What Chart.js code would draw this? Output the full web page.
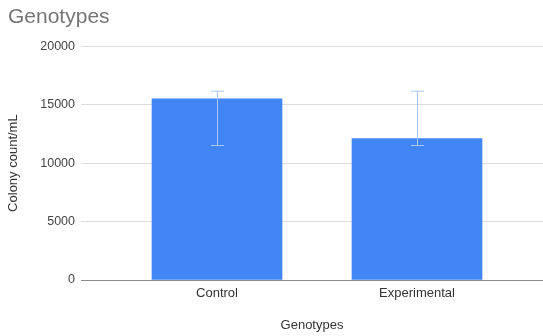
<!DOCTYPE html>
<html>
<head>
<meta charset="utf-8">
<script src="https://cdn.jsdelivr.net/npm/chart.js@4.4.1/dist/chart.umd.min.js"></script>
<style>
  html, body { margin: 0; padding: 0; background: #fff; }
  #wrap { width: 543px; height: 336px; }
</style>
</head>
<body>
<div id="wrap"><canvas id="chart"></canvas></div>
<script>
const categories = ['Control', 'Experimental'];
const counts = [15500, 12100];
const errLow = [11500, 11500];
const errHigh = [16150, 16150];
const yTicks = [0, 5000, 10000, 15000, 20000];

const font = "'Liberation Sans', Arial, sans-serif";

// draws the error bars on top of the bars
const errorBars = {
    id: 'errorBars',
    afterDatasetsDraw(chart) {
        const ctx = chart.ctx;
        const x = chart.scales.x;
        const y = chart.scales.y;
        ctx.save();
        ctx.strokeStyle = '#a9c6f7';
        ctx.lineWidth = 1;
        categories.forEach((c, i) => {
            const px = Math.round(x.getPixelForValue(i)) + 0.5;
            const top = y.getPixelForValue(errHigh[i]);
            const bot = y.getPixelForValue(errLow[i]);
            ctx.beginPath();
            ctx.moveTo(px, top);
            ctx.lineTo(px, bot);
            ctx.moveTo(px - 6.5, top);
            ctx.lineTo(px + 6.5, top);
            ctx.moveTo(px - 6.5, bot);
            ctx.lineTo(px + 6.5, bot);
            ctx.stroke();
        });
        ctx.restore();
    }
};

const chart = new Chart(document.getElementById('chart'), {
    type: 'bar',
    data: {
        datasets: [{
            label: 'Colony count/mL',
            data: counts.map((v, i) => ({ x: i, y: v })),
            backgroundColor: '#4285f4',
            borderWidth: 0,
            barThickness: 130
        }]
    },
    options: {
        responsive: true,
        maintainAspectRatio: false,
        animation: false,
        layout: { padding: { left: 8, right: 0, top: 0, bottom: 0 } },
        plugins: {
            legend: { display: false },
            tooltip: { enabled: false },
            title: {
                display: true,
                text: 'Genotypes',
                align: 'start',
                color: '#757575',
                font: { family: font, size: 21, weight: 'normal' },
                padding: { top: 5, bottom: 16 }
            }
        },
        scales: {
            x: {
                type: 'linear',
                offset: false,
                min: -0.68,
                max: 1.63,
                afterBuildTicks: (scale) => {
                    scale.ticks = categories.map((c, i) => ({ value: i }));
                },
                afterFit: (scale) => { scale.height = 56; },
                grid: { display: false, drawTicks: false },
                border: { display: false },
                ticks: {
                    callback: (v) => categories[v],
                    color: '#333',
                    padding: 5.5,
                    maxRotation: 0,
                    font: { family: font, size: 13 }
                },
                title: {
                    display: true,
                    text: 'Genotypes',
                    color: '#333',
                    font: { family: font, size: 13 },
                    padding: { top: 0, bottom: 3 }
                }
            },
            y: {
                min: 0,
                max: 20000,
                afterBuildTicks: (scale) => {
                    scale.ticks = yTicks.map(v => ({ value: v }));
                },
                afterFit: (scale) => { scale.width = 73; },
                grid: {
                    drawTicks: false,
                    color: (c) => c.tick && c.tick.value === 0 ? '#8c8c8c' : '#dcdcdc',
                    lineWidth: 1
                },
                border: { display: false },
                ticks: {
                    callback: (v) => String(v),
                    color: '#444',
                    padding: 6,
                    font: { family: font, size: 12.5 }
                },
                title: {
                    display: true,
                    text: 'Colony count/mL',
                    color: '#333',
                    font: { family: font, size: 13 },
                    padding: { top: -2.5, bottom: 0 }
                }
            }
        }
    },
    plugins: [errorBars]
});
</script>
</body>
</html>
